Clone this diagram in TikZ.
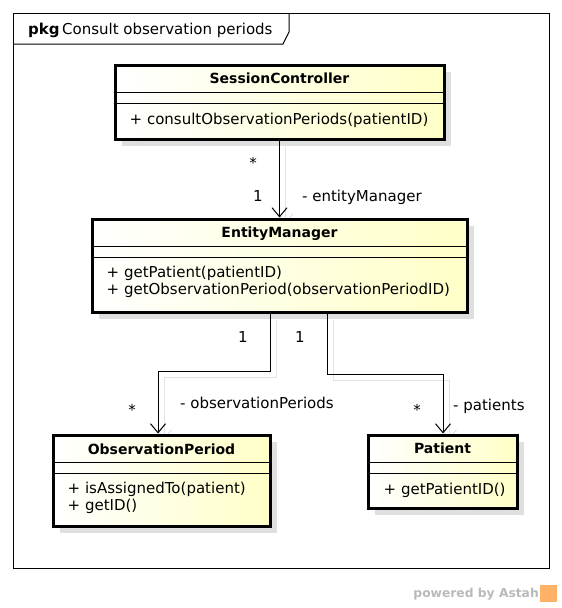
\documentclass[tikz,border=0pt]{standalone}
\usepackage{fontspec}
\setmainfont{DejaVu Sans}
\usepackage{tikz}
\usetikzlibrary{arrows.meta,calc,shadows,backgrounds}
\tikzstyle{classbox} = [draw, line width=3pt, left color=white, right color=yellow!22, inner sep=0pt,
  drop shadow={shadow xshift=7pt, shadow yshift=-7pt, fill=gray!25, opacity=1}]
\tikzstyle{comp} = [draw, line width=1pt]
\tikzstyle{link} = [draw, line width=1pt, -{Straight Barb[length=9pt,width=15pt,line width=1pt]}]
\tikzstyle{linkshadow} = [draw=gray!22, line width=1pt, -{Straight Barb[length=9pt,width=15pt,line width=1pt]}]
\tikzstyle{classname} = [font=\bfseries\fontsize{14}{17}\selectfont, inner sep=0pt]
\tikzstyle{ops} = [anchor=west, align=left, inner sep=0pt]
\tikzstyle{lbl} = [inner sep=0pt]

\begin{document}
\begin{tikzpicture}[x=1pt, y=-1pt, font=\fontsize{15}{17}\selectfont]
      \useasboundingbox (0,0) rectangle (562,608);

      % package frame
      \draw[line width=1pt] (13,13) rectangle (549,568);
      \draw[line width=1pt] (13,44) -- (283,44) -- (289,32) -- (289,13);
      \node at (28,30) [anchor=west, inner sep=0pt] (title) {\textbf{pkg}\,Consult observation periods};

      % class boxes
      \node at (279.5,102) [classbox, minimum width=329pt, minimum height=74pt] (sc) {};
      \node at (279.5,265.5) [classbox, minimum width=375pt, minimum height=93pt] (em) {};
      \node at (161.5,480.5) [classbox, minimum width=217pt, minimum height=91pt] (op) {};
      \node at (442.5,471.5) [classbox, minimum width=149pt, minimum height=73pt] (pa) {};

      % compartments
      \draw[comp] ($(sc.north west)+(0,29)$) -- ($(sc.north east)+(0,29)$);
      \draw[comp] ($(sc.north west)+(0,40)$) -- ($(sc.north east)+(0,40)$);
      \draw[comp] ($(em.north west)+(0,29)$) -- ($(em.north east)+(0,29)$);
      \draw[comp] ($(em.north west)+(0,40)$) -- ($(em.north east)+(0,40)$);
      \draw[comp] ($(op.north west)+(0,29)$) -- ($(op.north east)+(0,29)$);
      \draw[comp] ($(op.north west)+(0,40)$) -- ($(op.north east)+(0,40)$);
      \draw[comp] ($(pa.north west)+(0,29)$) -- ($(pa.north east)+(0,29)$);
      \draw[comp] ($(pa.north west)+(0,40)$) -- ($(pa.north east)+(0,40)$);

      % names and operations
      \node at ($(sc.north)+(0,15)$) [classname] (scname) {SessionController};
      \node at ($(sc.north west)+(16,57)$) [ops] (scops) {+ consultObservationPeriods(patientID)};
      \node at ($(em.north)+(0,16)$) [classname] (emname) {EntityManager};
      \node at ($(em.north west)+(16,64.5)$) [ops] (emops) {+ getPatient(patientID)\\+ getObservationPeriod(observationPeriodID)};
      \node at ($(op.north)+(0,16)$) [classname] (opname) {ObservationPeriod};
      \node at ($(op.north west)+(16,64)$) [ops] (opops) {+ isAssignedTo(patient)\\+ getID()};
      \node at ($(pa.north)+(0,15)$) [classname] (paname) {Patient};
      \node at ($(pa.north west)+(17,57)$) [ops] (paops) {+ getPatientID()};

      % associations
      \draw[link] (sc.south) -- (em.north);
      \draw[link] ([xshift=-9.5pt]em.south) -- ++(0,58) -| ([xshift=-3.5pt]op.north);
      \draw[link] ([xshift=47.5pt]em.south) -- ++(0,61) -| ([xshift=0.5pt]pa.north);

      \begin{pgfonlayer}{background}
        \draw[linkshadow] ([xshift=6pt,yshift=-6pt]sc.south) -- ([xshift=6pt,yshift=-6pt]em.north);
        \draw[linkshadow] ([xshift=-3.5pt,yshift=-6pt]em.south) -- ++(0,58) -| ([xshift=2.5pt,yshift=-6pt]op.north);
        \draw[linkshadow] ([xshift=53.5pt,yshift=-6pt]em.south) -- ++(0,61) -| ([xshift=6.5pt,yshift=-6pt]pa.north);
      \end{pgfonlayer}

      % multiplicities and roles
      \node at (253,163) [lbl] (scmult) {*};
      \node at (258,196) [lbl] (emmult) {1};
      \node at (302,197) [lbl, anchor=west] (emrole) {- entityManager};
      \node at (243,337) [lbl] (emopmult) {1};
      \node at (300,337) [lbl] (empamult) {1};
      \node at (132,410) [lbl] (opmult) {*};
      \node at (180,403) [lbl, anchor=west] (oprole) {- observationPeriods};
      \node at (417,410) [lbl] (pamult) {*};
      \node at (453,406) [lbl, anchor=west] (parole) {- patients};

      % watermark
      \node at (539,594) [anchor=east, inner sep=0pt, text=gray!55, font=\bfseries\fontsize{12.3}{14}\selectfont] (powered) {powered by Astah};
      \fill[orange!60] (540,585) rectangle (557,602);
    \end{tikzpicture}
\end{document}
